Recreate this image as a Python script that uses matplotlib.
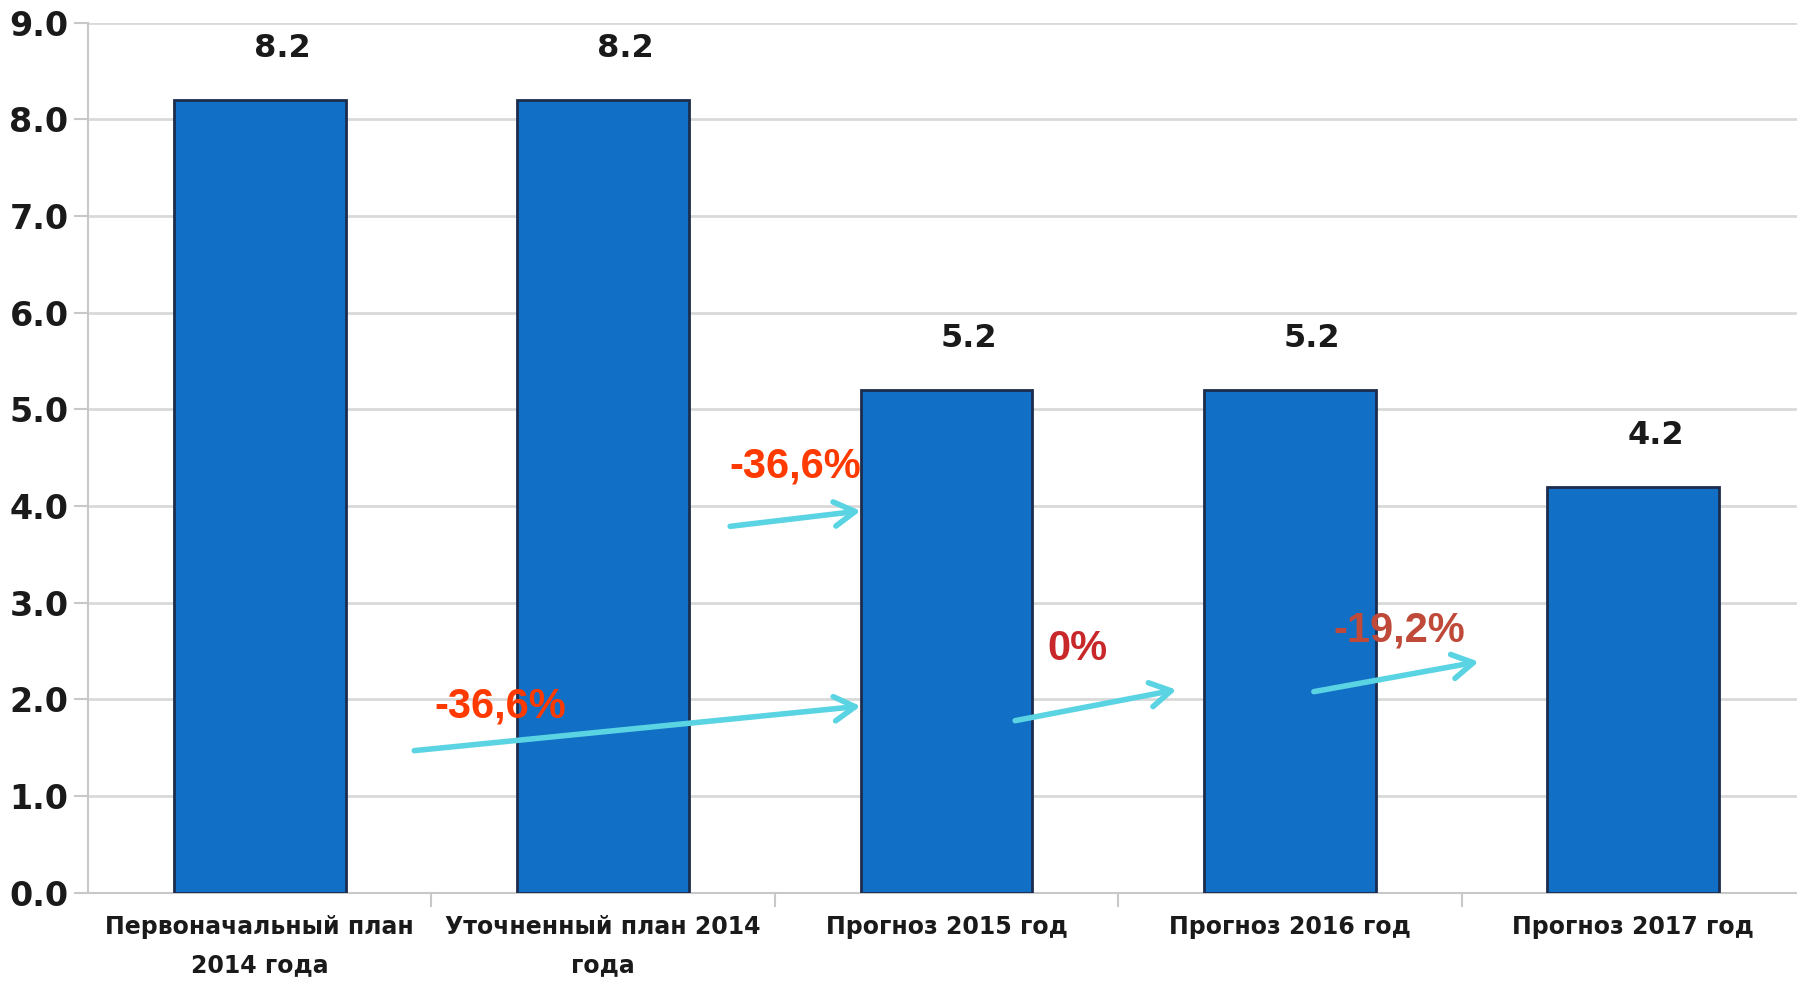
import matplotlib.pyplot as plt

# Data
categories = ["Первоначальный план\n2014 года", "Уточненный план 2014\nгода",
              "Прогноз 2015 год", "Прогноз 2016 год", "Прогноз 2017 год"]
values = [8.2, 8.2, 5.2, 5.2, 4.2]

# change arrows: (start x, start y, end x, end y) in data units, label, label position, colour
arrow_starts = [(0.45, 1.47), (1.37, 3.79), (2.20, 1.78), (3.07, 2.08)]
arrow_ends = [(1.75, 1.93), (1.75, 3.95), (2.67, 2.10), (3.55, 2.39)]
change_labels = ["-36,6%", "-36,6%", "0%", "-19,2%"]
label_pos = [(0.70, 1.93), (1.56, 4.41), (2.38, 2.52), (3.32, 2.71)]
label_colors = ["#ff3a00", "#ff3a00", "#c8282a", "#bf4a3a"]

fig = plt.figure(figsize=(17.97, 9.82), dpi=100)
ax = fig.add_axes([0.049, 0.0909, 0.951, 0.886])

x = list(range(len(values)))
ax.bar(x, values, width=0.5, color="#126fc6", edgecolor="#1c2c4c",
       linewidth=2, zorder=3)

for xi, v in zip(x, values):
    ax.annotate(f"{v:.1f}", (xi, v), xytext=(16, 37), textcoords="offset points",
                ha="center", va="center", fontsize=23, fontweight="bold",
                color="#1a1a1a", zorder=5)

for (x0, y0), (x1, y1) in zip(arrow_starts, arrow_ends):
    ax.annotate("", xy=(x1, y1), xytext=(x0, y0),
                arrowprops=dict(arrowstyle="->,head_length=0.6,head_width=0.35",
                                lw=4, color="#5ad4e2", mutation_scale=25,
                                shrinkA=0, shrinkB=0),
                zorder=6)

for txt, (lx, ly), c in zip(change_labels, label_pos, label_colors):
    ax.text(lx, ly, txt, ha="center", va="center", fontsize=30,
            fontweight="bold", color=c, family=["Liberation Sans", "DejaVu Sans"],
            zorder=7)

ax.set_xlim(-0.5, 4.477)
ax.set_ylim(0, 9)
ax.set_yticks([i * 1.0 for i in range(10)])
ax.set_yticklabels([f"{i:.1f}" for i in range(10)], fontsize=24,
                   fontweight="bold", color="#1a1a1a")
ax.set_xticks(x)
ax.set_xticklabels(categories, fontsize=17, fontweight="bold", color="#1a1a1a",
                   linespacing=1.75)
ax.set_xticks([0.5, 1.5, 2.5, 3.5], minor=True)
ax.tick_params(axis="x", which="major", length=0, pad=16)
ax.tick_params(axis="x", which="minor", length=10, width=1.5, color="#c8c8c8")
ax.tick_params(axis="y", length=10, width=1.5, color="#c8c8c8", pad=4)

ax.grid(axis="y", color="#d9d9d9", linewidth=2, zorder=0)
ax.set_axisbelow(True)
for s in ["top", "right"]:
    ax.spines[s].set_visible(False)
for s in ["left", "bottom"]:
    ax.spines[s].set_color("#c8c8c8")
    ax.spines[s].set_linewidth(1.5)

fig.savefig("out.png", dpi=100)
